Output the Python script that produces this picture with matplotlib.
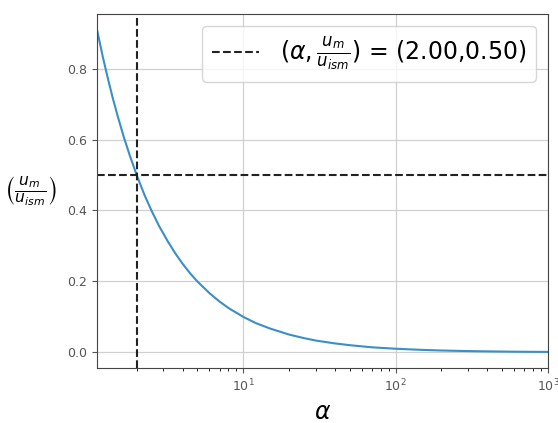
import numpy as np
import matplotlib
matplotlib.use("Agg")
import matplotlib.pyplot as plt

# values
alpha = [1.1, 1.2, 1.3, 1.4, 1.5, 1.65, 1.8, 2.0, 2.25, 2.5, 2.8, 3.2, 3.6, 4.0, 4.5,
         5.0, 6.0, 7.0, 8.0, 10.0, 12.0, 15.0, 20.0, 25.0, 30.0, 40.0, 50.0, 70.0,
         100.0, 150.0, 200.0, 300.0, 500.0, 700.0, 1000.0]
u_ratio = [0.909, 0.833, 0.769, 0.714, 0.667, 0.606, 0.556, 0.500, 0.444, 0.400,
           0.357, 0.313, 0.278, 0.250, 0.222, 0.200, 0.167, 0.143, 0.125, 0.100,
           0.083, 0.067, 0.050, 0.040, 0.033, 0.025, 0.020, 0.014, 0.010, 0.0067,
           0.005, 0.0033, 0.002, 0.0014, 0.001]
alpha_mark = 2.00
u_mark = 0.50

fig = plt.figure(figsize=(5.58, 4.23), dpi=100)
ax = fig.add_axes([0.174, 0.130, 0.808, 0.837])

ax.semilogx(alpha, u_ratio, color="#3a8fc7", lw=1.5)
ax.axvline(alpha_mark, color="#222222", ls="--", lw=1.5,
           label=r"$(\alpha,\frac{u_m}{u_{ism}})$ = (%.2f,%.2f)" % (alpha_mark, u_mark))
ax.axhline(u_mark, color="#222222", ls="--", lw=1.5)

ax.set_xlim(alpha[0], alpha[-1])
ax.grid(True, color="#d0d0d0", lw=0.9)
ax.tick_params(labelsize=9, colors="#555555")
for s in ax.spines.values():
    s.set_color("#444444")

ax.set_xlabel(r"$\alpha$", fontsize=17)
ax.set_ylabel(r"$\left(\frac{u_m}{u_{ism}}\right)$", fontsize=16, rotation=0, labelpad=27,
              va="center")
ax.legend(loc="upper right", fontsize=17, borderpad=0.4, handletextpad=0.9)

fig.savefig("out.png", dpi=100)
